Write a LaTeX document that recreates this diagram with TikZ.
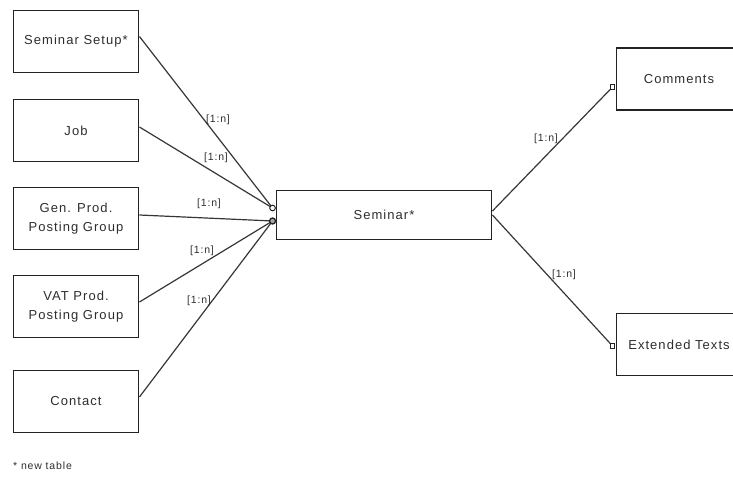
\documentclass[tikz,border=0pt]{standalone}
\usepackage{fontspec}
\setmainfont{Liberation Sans}[LetterSpace=8]
\usetikzlibrary{calc}
\definecolor{ink}{HTML}{222222}
\definecolor{wire}{HTML}{363636}
\definecolor{txt}{HTML}{2E2E2E}
\begin{document}
\begin{tikzpicture}[x=1pt,y=-1pt,
  table/.style={draw=ink, line width=1.9pt, fill=white, inner sep=0pt,
    minimum width=125pt, minimum height=62pt, align=center, text=txt,
    font=\fontsize{13}{18.5}\selectfont},
  link/.style={draw=wire, line width=1.2pt},
  card/.style={text=txt, inner sep=0pt, font=\fontsize{10.5}{12}\selectfont},
  pin/.style={draw=ink, line width=1pt, fill=white},
]
\useasboundingbox (0,0) rectangle (733,477);
\clip (0,0) rectangle (733,477);

% related tables on the left
\node[table] (setup)   at (76,41.5)  {Seminar Setup*};
\node[table] (job)     at (76,130.5) {Job};
\node[table] (gen)     at (76,218.5) {Gen. Prod.\\Posting Group};
\node[table] (vat)     at (76,306.5) {VAT Prod.\\Posting Group};
\node[table] (contact) at (76,401.5) {Contact};

% main table
\node[table, minimum width=215pt, minimum height=49pt] (sem) at (384,215) {Seminar*};

% related tables on the right
\node[table] (comments) at (679,79)    {Comments};
\node[table] (ext)      at (679,344.5) {Extended Texts};

% connection points on the Seminar table
\coordinate (pinA) at ($(sem.west)+(-3,-7)$);
\coordinate (pinB) at ($(sem.west)+(-3,6)$);
\coordinate (outA) at ($(sem.east)+(0,-4)$);
\coordinate (outB) at ($(sem.east)+(0,0)$);
\coordinate (inC) at ($(comments.west)+(-3,8)$);
\coordinate (inE) at ($(ext.west)+(-3,1.5)$);

% connectors
\draw[link] ($(setup.east)+(0,-5)$)   -- (pinA);
\draw[link] ($(job.east)+(0,-3.5)$)   -- (pinA);
\draw[link] ($(gen.east)+(0,-3.5)$)   -- (pinB);
\draw[link] ($(vat.east)+(0,-4.5)$)   -- (pinB);
\draw[link] ($(contact.east)+(0,-4.5)$) -- (pinB);
\draw[link] (outA) -- (inC);
\draw[link] (outB) -- (inE);

% cardinality labels
\node[card] (c1) at (218,120) {[1:n]};
\node[card] (c2) at (216,158) {[1:n]};
\node[card] (c3) at (209,204) {[1:n]};
\node[card] (c4) at (202,251) {[1:n]};
\node[card] (c5) at (199,301) {[1:n]};
\node[card] (c6) at (546,139) {[1:n]};
\node[card] (c7) at (564,275) {[1:n]};

% connector end markers
\draw[pin] (pinA) circle (2.8);
\draw[pin, fill=gray!70, line width=1.3pt] (pinB) circle (3);
\draw[pin] ($(inC)+(-2.2,-2.2)$) rectangle ($(inC)+(2.2,2.2)$);
\draw[pin] ($(inE)+(-2.2,-2.2)$) rectangle ($(inE)+(2.2,2.2)$);

% footnote
\node[card, anchor=west] (note) at (13,466) {* new table};
\end{tikzpicture}
\end{document}
